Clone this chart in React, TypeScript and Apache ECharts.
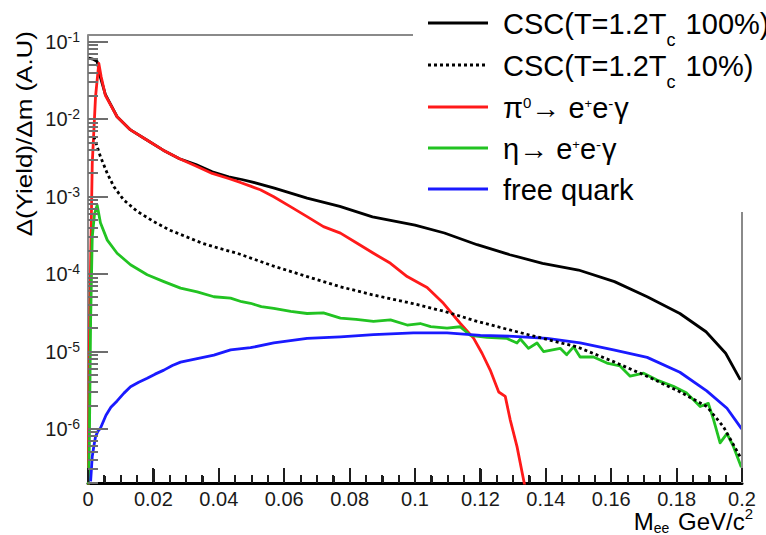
import React, { useEffect, useRef } from 'react';
import * as echarts from 'echarts';

// Axis ranges
const MASS_MIN = 0;
const MASS_MAX = 0.2;
const MASS_STEP = 0.02;
const MASS_MINOR_STEP = 0.005;
const YIELD_MIN = 2e-7;
const YIELD_MAX = 0.123;

// CSC (T = 1.2 Tc, 100%)
const cscFullMass = [0.0002, 0.0015, 0.0028, 0.0038, 0.0053, 0.0089, 0.013, 0.018, 0.023, 0.028, 0.033, 0.038, 0.043, 0.047, 0.05, 0.057, 0.067, 0.077, 0.087, 0.1, 0.109, 0.119, 0.129, 0.139, 0.15, 0.161, 0.171, 0.181, 0.189, 0.195, 0.1995];
const cscFullYield = [0.062, 0.06, 0.056, 0.035, 0.021, 0.0108, 0.0073, 0.0054, 0.004, 0.0031, 0.0026, 0.0021, 0.00181, 0.00167, 0.00156, 0.00129, 0.00096, 0.00075, 0.00055, 0.00043, 0.00034, 0.00024, 0.000178, 0.000138, 0.000113, 8.0e-5, 5.1e-5, 3.1e-5, 1.8e-5, 9.5e-6, 4.3e-6];

// CSC (T = 1.2 Tc, 10%)
const cscTenthMass = [0.0018, 0.0038, 0.0059, 0.0079, 0.0109, 0.015, 0.02, 0.025, 0.03, 0.035, 0.04, 0.0456, 0.05, 0.057, 0.067, 0.077, 0.087, 0.099, 0.109, 0.119, 0.129, 0.139, 0.1495, 0.1607, 0.1709, 0.1811, 0.1892, 0.1943, 0.1994];
const cscTenthYield = [6.0e-3, 3.3e-3, 2.0e-3, 1.35e-3, 9.1e-4, 6.5e-4, 4.8e-4, 3.7e-4, 3.05e-4, 2.5e-4, 2.16e-4, 1.86e-4, 1.6e-4, 1.26e-4, 9.3e-5, 6.9e-5, 5.4e-5, 4.2e-5, 3.3e-5, 2.45e-5, 1.9e-5, 1.48e-5, 1.15e-5, 7.4e-6, 4.8e-6, 3.0e-6, 1.95e-6, 1.07e-6, 4.4e-7];

// pi0 Dalitz decay
const pionMass = [0.0001, 0.0004, 0.0008, 0.0013, 0.0018, 0.0023, 0.0033, 0.004, 0.0053, 0.0089, 0.013, 0.018, 0.023, 0.028, 0.033, 0.038, 0.043, 0.0466, 0.0497, 0.0527, 0.0568, 0.0619, 0.067, 0.072, 0.0772, 0.0823, 0.0873, 0.0925, 0.0976, 0.1016, 0.1037, 0.1087, 0.1138, 0.1179, 0.1205, 0.123, 0.1256, 0.1276, 0.1291, 0.1312, 0.1332, 0.1345];
const pionYield = [1.5e-7, 1.0e-5, 1.4e-4, 2.7e-3, 7.2e-3, 0.0195, 0.053, 0.036, 0.0205, 0.0108, 0.0073, 0.0054, 0.004, 0.0031, 0.0025, 0.002, 0.00172, 0.00153, 0.00137, 0.00123, 0.001, 0.000745, 0.000553, 0.000411, 0.000339, 0.000251, 0.000186, 0.000138, 9.3e-5, 7.5e-5, 6.7e-5, 4.2e-5, 2.32e-5, 1.49e-5, 9.5e-6, 5.75e-6, 3.0e-6, 2.63e-6, 1.32e-6, 5.9e-7, 2.2e-7, 1.2e-7];

// eta Dalitz decay
const etaMass = [0.0001, 0.0004, 0.0008, 0.0013, 0.002, 0.0028, 0.0038, 0.0059, 0.0089, 0.013, 0.0181, 0.0232, 0.0283, 0.0334, 0.0385, 0.0436, 0.047, 0.0497, 0.053, 0.0568, 0.062, 0.067, 0.072, 0.0772, 0.082, 0.0873, 0.0925, 0.0976, 0.1016, 0.1048, 0.1098, 0.1138, 0.1169, 0.122, 0.128, 0.1312, 0.1322, 0.1347, 0.1373, 0.1393, 0.1444, 0.1464, 0.1485, 0.1505, 0.1546, 0.1587, 0.1627, 0.1658, 0.1699, 0.174, 0.179, 0.1831, 0.1872, 0.1897, 0.1913, 0.1933, 0.1954, 0.1974, 0.1998];
const etaYield = [1.5e-7, 6e-7, 2.5e-5, 3.0e-4, 6.0e-4, 7.8e-4, 4.6e-4, 2.75e-4, 1.86e-4, 1.32e-4, 9.8e-5, 8.0e-5, 6.6e-5, 5.9e-5, 5.1e-5, 4.9e-5, 4.4e-5, 4.2e-5, 3.8e-5, 3.6e-5, 3.3e-5, 3.1e-5, 3.15e-5, 2.7e-5, 2.6e-5, 2.45e-5, 2.57e-5, 2.2e-5, 2.3e-5, 2.1e-5, 2.0e-5, 2.09e-5, 1.62e-5, 1.52e-5, 1.48e-5, 1.29e-5, 1.45e-5, 1.1e-5, 1.29e-5, 1.0e-5, 1.1e-5, 9.1e-6, 1.15e-5, 8.5e-6, 8.5e-6, 7.1e-6, 6.5e-6, 4.8e-6, 5.25e-6, 4.27e-6, 3.55e-6, 2.9e-6, 1.95e-6, 2.14e-6, 1.32e-6, 6.6e-7, 8.7e-7, 5.9e-7, 3.2e-7];

// free quark
const quarkMass = [0.0008, 0.0013, 0.0018, 0.0023, 0.003, 0.0038, 0.0055, 0.007, 0.0089, 0.011, 0.013, 0.0155, 0.0181, 0.0205, 0.0232, 0.0258, 0.0283, 0.0334, 0.0385, 0.0436, 0.0497, 0.0568, 0.067, 0.0772, 0.0873, 0.0995, 0.1098, 0.12, 0.13, 0.1404, 0.1505, 0.1607, 0.171, 0.181, 0.1892, 0.1954, 0.1999];
const quarkYield = [2.1e-7, 4.4e-7, 6.0e-7, 7.9e-7, 9.3e-7, 1.02e-6, 1.5e-6, 1.9e-6, 2.3e-6, 2.9e-6, 3.5e-6, 4.0e-6, 4.5e-6, 5.1e-6, 5.75e-6, 6.6e-6, 7.3e-6, 8.1e-6, 9.0e-6, 1.05e-5, 1.12e-5, 1.29e-5, 1.48e-5, 1.55e-5, 1.65e-5, 1.74e-5, 1.74e-5, 1.62e-5, 1.57e-5, 1.48e-5, 1.29e-5, 1.05e-5, 8.4e-6, 5.4e-6, 3.1e-6, 1.85e-6, 1.0e-6];

const W = 766;
const H = 535;
const GRID = { left: 88, right: 24, top: 35, bottom: 52 };
const FONT = '"Liberation Sans", Arial, Helvetica, sans-serif';

const BLACK = '#000000';
const RED = '#ff1a1a';
const GREEN = '#22c322';
const BLUE = '#1a1aff';
const FRAME_GRAY = '#8a8a8a';
const TICK_GRAY = '#6e6e6e';
const TICK_DARK = '#1e1e1e';

let measureCtx: CanvasRenderingContext2D | null = null;
function textWidth(t: string, size: number): number {
  if (!measureCtx) measureCtx = document.createElement('canvas').getContext('2d');
  if (!measureCtx) return t.length * size * 0.55;
  measureCtx.font = `${size}px ${FONT}`;
  return measureCtx.measureText(t).width;
}

type Seg = { t: string; size: number; dy?: number; pad?: number };

// Lay out a run of text pieces (with sub/superscripts) as graphic texts
function segElements(segs: Seg[], x0: number, yc: number, anchor: 'left' | 'right', color = '#000') {
  const widths = segs.map((s) => textWidth(s.t, s.size) + (s.pad ?? 0));
  const total = widths.reduce((a, b) => a + b, 0);
  let x = anchor === 'left' ? x0 : x0 - total;
  return segs.map((s, i) => {
    const el = {
      type: 'text',
      x,
      y: yc + (s.dy ?? 0),
      silent: true,
      z: 20,
      style: {
        text: s.t,
        fontSize: s.size,
        fontFamily: FONT,
        fill: color,
        align: 'left',
        verticalAlign: 'middle',
        textAlign: 'left',
        textVerticalAlign: 'middle',
      },
    };
    x += widths[i];
    return el;
  });
}

const LEG_SIZE = 29;
const legendRows: { color: string; dash: number[] | null; y: number; segs: Seg[] }[] = [
  {
    color: BLACK, dash: null, y: 23,
    segs: [{ t: 'CSC(T=1.2T', size: LEG_SIZE }, { t: 'c', size: 18, dy: 16, pad: 2 }, { t: ' 100%)', size: LEG_SIZE }],
  },
  {
    color: BLACK, dash: [3, 3], y: 65,
    segs: [{ t: 'CSC(T=1.2T', size: LEG_SIZE }, { t: 'c', size: 18, dy: 16, pad: 2 }, { t: ' 10%)', size: LEG_SIZE }],
  },
  {
    color: RED, dash: null, y: 107,
    segs: [
      { t: 'π', size: LEG_SIZE }, { t: '0', size: 15, dy: -6 }, { t: '→ e', size: LEG_SIZE },
      { t: '+', size: 13, dy: -5 }, { t: 'e', size: LEG_SIZE }, { t: '-', size: 15, dy: -5, pad: 1 }, { t: 'γ', size: LEG_SIZE },
    ],
  },
  {
    color: GREEN, dash: null, y: 148,
    segs: [
      { t: 'η', size: LEG_SIZE }, { t: '→ e', size: LEG_SIZE },
      { t: '+', size: 13, dy: -5 }, { t: 'e', size: LEG_SIZE }, { t: '-', size: 15, dy: -5, pad: 1 }, { t: 'γ', size: LEG_SIZE },
    ],
  },
  { color: BLUE, dash: null, y: 189, segs: [{ t: 'free quark', size: LEG_SIZE }] },
];

function buildGraphics(): any[] {
  const plotRight = W - GRID.right;
  const plotBottom = H - GRID.bottom;
  const els: any[] = [];
  // visible parts of the frame (the legend box hides the rest)
  els.push({
    type: 'line', silent: true, z: 15,
    shape: { x1: GRID.left, y1: GRID.top, x2: 413, y2: GRID.top },
    style: { stroke: FRAME_GRAY, lineWidth: 2 },
  });
  els.push({
    type: 'line', silent: true, z: 15,
    shape: { x1: plotRight, y1: 212, x2: plotRight, y2: plotBottom },
    style: { stroke: FRAME_GRAY, lineWidth: 2 },
  });
  // legend
  legendRows.forEach((row) => {
    els.push({
      type: 'line', silent: true, z: 20,
      shape: { x1: 428, y1: row.y, x2: 488, y2: row.y },
      style: { stroke: row.color, lineWidth: 3, lineDash: row.dash ?? undefined },
    });
    els.push(...segElements(row.segs, 503, row.y + 1, 'left'));
  });
  // x-axis title
  els.push(
    ...segElements(
      [
        { t: 'M', size: 24 },
        { t: 'ee', size: 14, dy: 7, pad: 2 },
        { t: ' GeV/c', size: 24 },
        { t: '2', size: 15, dy: -8 },
      ],
      753,
      521,
      'right'
    )
  );
  // y-axis title
  els.push({
    type: 'text', silent: true, z: 20,
    x: 24, y: 31, rotation: Math.PI / 2, scaleX: 1.18, scaleY: 1,
    style: {
      text: 'Δ(Yield)/Δm (A.U)',
      fontSize: 22,
      fontFamily: FONT,
      fill: '#000',
      align: 'right',
      verticalAlign: 'middle',
      textAlign: 'right',
      textVerticalAlign: 'middle',
    },
  });
  return els;
}

// tick values of the log (left) axis: 1..9 x 10^n
function yTickValues(): { v: number; major: boolean }[] {
  const out: { v: number; major: boolean }[] = [];
  for (let e = -7; e <= -1; e++) {
    for (let k = 1; k <= 9; k++) {
      const v = k * Math.pow(10, e);
      if (v >= YIELD_MIN * 0.999 && v <= YIELD_MAX) out.push({ v, major: k === 1 });
    }
  }
  return out;
}

// tick values of the mass (bottom) axis
function xTickValues(): { v: number; major: boolean }[] {
  const out: { v: number; major: boolean }[] = [];
  const n = Math.round((MASS_MAX - MASS_MIN) / MASS_MINOR_STEP);
  const per = Math.round(MASS_STEP / MASS_MINOR_STEP);
  for (let i = 0; i <= n; i++) out.push({ v: MASS_MIN + i * MASS_MINOR_STEP, major: i % per === 0 });
  return out;
}

// horizontal pixel of a mass value on the bottom axis
function xPixel(chart: any, v: number): number {
  try {
    const p = chart.convertToPixel({ xAxisIndex: 0 }, v);
    if (typeof p === 'number' && isFinite(p) && p >= 0 && p <= W) return p;
  } catch (e) {
    /* fall through */
  }
  const left = GRID.left;
  const right = W - GRID.right;
  return left + ((v - MASS_MIN) / (MASS_MAX - MASS_MIN)) * (right - left);
}

// vertical pixel of a yield value on the left axis
function yPixel(chart: any, v: number): number {
  try {
    const p = chart.convertToPixel({ yAxisIndex: 0 }, v);
    if (typeof p === 'number' && isFinite(p)) return p;
  } catch (e) {
    /* fall through */
  }
  const top = GRID.top;
  const bottom = H - GRID.bottom;
  const lo = Math.log10(YIELD_MIN);
  const hi = Math.log10(YIELD_MAX);
  return bottom - ((Math.log10(v) - lo) / (hi - lo)) * (bottom - top);
}

function tickGraphics(chart: any): any[] {
  const els: any[] = [];
  const axisY = H - GRID.bottom - 1;
  xTickValues().forEach(({ v, major }) => {
    const x = Math.round(xPixel(chart, v));
    const len = major ? 14 : 7;
    els.push({
      type: 'rect', silent: true, z: 30,
      shape: { x: x - 1, y: axisY - len, width: 2, height: len },
      style: { fill: TICK_DARK },
    });
  });
  yTickValues().forEach(({ v, major }) => {
    const y = Math.round(yPixel(chart, v));
    const len = major ? 20 : 10;
    els.push({
      type: 'rect', silent: true, z: 30,
      shape: { x: GRID.left, y: y - 1, width: len, height: 2 },
      style: { fill: TICK_GRAY },
    });
  });
  return els;
}

function pairs(xs: number[], ys: number[]) {
  return xs.map((x, i) => [x, ys[i]]);
}

function lineSeries(name: string, xs: number[], ys: number[], color: string, dash?: number[]) {
  return {
    type: 'line',
    name,
    data: pairs(xs, ys),
    symbol: 'none',
    showSymbol: false,
    clip: true,
    smooth: false,
    lineStyle: { color, width: 2.8, type: dash ?? 'solid', cap: 'butt', join: 'round' },
    itemStyle: { color },
    z: 3,
  };
}

export default function App() {
  const ref = useRef<HTMLDivElement>(null);

  useEffect(() => {
    if (!ref.current) return;
    const chart = echarts.init(ref.current, undefined, { renderer: 'svg' });

    const option: any = {
      animation: false,
      backgroundColor: '#ffffff',
      grid: { left: GRID.left, right: GRID.right, top: GRID.top, bottom: GRID.bottom, containLabel: false },
      xAxis: {
        type: 'value',
        min: MASS_MIN,
        max: MASS_MAX,
        interval: MASS_STEP,
        axisLine: { show: true, onZero: false, lineStyle: { color: '#000', width: 3 } },
        axisTick: { show: true, inside: true, length: 14, lineStyle: { color: TICK_DARK, width: 2 } },
        minorTick: { show: true, splitNumber: 4, length: 7, lineStyle: { color: TICK_DARK, width: 2 } },
        splitLine: { show: false },
        minorSplitLine: { show: false },
        axisLabel: {
          margin: 6,
          fontSize: 20,
          fontFamily: FONT,
          color: '#1a1a1a',
          formatter: (v: number) => String(+v.toFixed(3)),
        },
      },
      yAxis: {
        type: 'log',
        logBase: 10,
        min: YIELD_MIN,
        max: YIELD_MAX,
        axisLine: { show: true, lineStyle: { color: FRAME_GRAY, width: 2 } },
        axisTick: { show: false },
        splitLine: { show: false },
        axisLabel: {
          margin: 8,
          formatter: (v: number) => {
            const e = Math.log10(v);
            if (Math.abs(e - Math.round(e)) > 1e-6) return '';
            return `{b|10}{s|${Math.round(e)}}`;
          },
          rich: {
            b: { fontSize: 20, fontFamily: FONT, color: '#1a1a1a', lineHeight: 24 },
            s: { fontSize: 14, fontFamily: FONT, color: '#1a1a1a', lineHeight: 14, verticalAlign: 'top' },
          },
        },
      },
      series: [
        lineSeries('CSC(T=1.2Tc 100%)', cscFullMass, cscFullYield, BLACK),
        lineSeries('π0→ e+e-γ', pionMass, pionYield, RED),
        lineSeries('η→ e+e-γ', etaMass, etaYield, GREEN),
        lineSeries('free quark', quarkMass, quarkYield, BLUE),
        lineSeries('CSC(T=1.2Tc 10%)', cscTenthMass, cscTenthYield, BLACK, [3, 3]),
      ],
    };

    chart.setOption(option);
    // tick marks (1..9 per decade on the left, 0.005 steps at the bottom) placed through the chart's scales
    chart.setOption({ graphic: { elements: [...tickGraphics(chart), ...buildGraphics()] } });
    return () => chart.dispose();
  }, []);

  return (
    <div
      ref={ref}
      style={{ position: 'fixed', left: 0, top: 0, width: W, height: H, background: '#fff' }}
    />
  );
}
